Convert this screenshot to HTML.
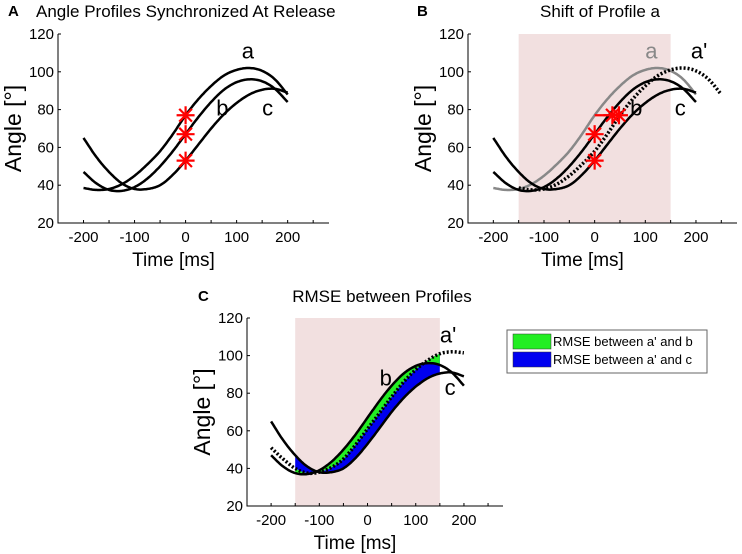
<!DOCTYPE html>
<html><head><meta charset="utf-8">
<style>
body{margin:0;background:#fff;}
svg{display:block;font-family:"Liberation Sans",Arial,sans-serif;}
</style></head>
<body>
<svg id="fig" width="742" height="554" viewBox="0 0 742 554"></svg>
<script>
const times = [-200,-175,-150,-125,-100,-75,-50,-25,0,25,50,75,100,125,150,175,200];
const profileA = [38.5,37.5,38,40.5,45,51,58,67,77,85.5,92.5,98,101,102,100.5,96,88];
const profileB = [47,41,37.5,37,39,43.5,50,58,67,76,84,90.5,94.5,96,95,91,84];
const profileC = [65,55,47,41,38,38,40,45.5,53,61.5,70,77.5,83.5,88,90.5,91,89];
const shiftA = 50;
const profileAPrimeC = [51,45,40,37.5,38,40.5,45,52.5,61,69.5,78,86,92.5,97.5,101,102,101.5];
const releaseStars = [77,67,53];
const shiftedStarTimes = [35,48];
const xTicks = [-200,-100,0,100,200];
const yTicks = [20,40,60,80,100,120];
const windowRange = [-150,150];

const NS="http://www.w3.org/2000/svg";
const svg=document.getElementById('fig');
function mk(tag,attrs,parent){const e=document.createElementNS(NS,tag);for(const k in attrs)e.setAttribute(k,attrs[k]);(parent||svg).appendChild(e);return e;}

function spline(xs,ys,n){const out=[];for(let i=0;i<xs.length-1;i++){const p0=i>0?ys[i-1]:2*ys[0]-ys[1],p1=ys[i],p2=ys[i+1],p3=i+2<ys.length?ys[i+2]:2*ys[ys.length-1]-ys[ys.length-2];for(let k=0;k<n;k++){const t=k/n;const y=0.5*((2*p1)+(-p0+p2)*t+(2*p0-5*p1+4*p2-p3)*t*t+(-p0+3*p1-3*p2+p3)*t*t*t);out.push([xs[i]+(xs[i+1]-xs[i])*t,y]);}}out.push([xs[xs.length-1],ys[ys.length-1]]);return out;}
function evalAt(pts,x){for(let i=0;i<pts.length-1;i++){if(x>=pts[i][0]&&x<=pts[i+1][0]){const f=(x-pts[i][0])/(pts[i+1][0]-pts[i][0]);return pts[i][1]+f*(pts[i+1][1]-pts[i][1]);}}return pts[pts.length-1][1];}

function makeAxes(cfg){
  const sx=v=>cfg.x0+(v-cfg.xmin)/(cfg.xmax-cfg.xmin)*(cfg.x1-cfg.x0);
  const sy=v=>cfg.y1-(v-20)/100*(cfg.y1-cfg.y0);
  return {sx,sy};
}
function drawFrame(g,ax,cfg){
  const f=mk('path',{d:`M${cfg.x0},${cfg.y0}V${cfg.y1}H${cfg.x1}`,fill:'none',stroke:'#000','stroke-width':1},g);
  
  xTicks.forEach(v=>{const x=ax.sx(v);
    const t=mk('line',{x1:x,x2:x,y1:cfg.y1,y2:cfg.y1-3,stroke:'#000'},g);
    const l=mk('text',{x:x,y:cfg.y1+19,'font-size':15,'text-anchor':'middle'},g);l.textContent=v;});
  [-150,-50,50,150,250].forEach(v=>{const x=ax.sx(v);const t=mk('line',{x1:x,x2:x,y1:cfg.y1,y2:cfg.y1-3,stroke:'#000'},g);});
  yTicks.forEach(v=>{const y=ax.sy(v);
    const t=mk('line',{x1:cfg.x0,x2:cfg.x0+3,y1:y,y2:y,stroke:'#000'},g);
    const l=mk('text',{x:cfg.x0-4,y:y+5,'font-size':15,'text-anchor':'end'},g);l.textContent=v;});
  const xl=mk('text',{x:(cfg.x0+cfg.x1)/2-20,y:cfg.y1+43,'font-size':19,'text-anchor':'middle'},g);xl.textContent='Time [ms]';
  const yl=mk('text',{x:0,y:0,'font-size':23,'text-anchor':'middle',transform:`translate(${cfg.x0-37},${(cfg.y0+cfg.y1)/2}) rotate(-90)`},g);yl.textContent='Angle [°]';
}
function pathOf(pts,ax){return pts.map((p,i)=>(i?'L':'M')+ax.sx(p[0]).toFixed(1)+','+ax.sy(p[1]).toFixed(1)).join('');}
function line(g,pts,ax,attrs,name){const e=mk('path',Object.assign({d:pathOf(pts,ax),fill:'none','stroke-width':2.5},attrs),g);return e;}
function star(g,x,y,name){const s=mk('g',{stroke:'#f00','stroke-width':2.2},g);for(let k=0;k<4;k++){const a=k*Math.PI/4;mk('line',{x1:x-9*Math.cos(a),y1:y-9*Math.sin(a),x2:x+9*Math.cos(a),y2:y+9*Math.sin(a)},s);}}
function txt(g,x,y,s,size,name,extra){const e=mk('text',Object.assign({x,y,'font-size':size},extra||{}),g);e.textContent=s;return e;}

const ptsA=spline(times,profileA,10), ptsB=spline(times,profileB,10), ptsC=spline(times,profileC,10);
const ptsAP=ptsA.map(p=>[p[0]+shiftA,p[1]]);
const ptsAPC=spline(times,profileAPrimeC,10);

// Panel A
{const cfg={x0:58,x1:329,y0:34,y1:223,xmin:-250,xmax:281};const ax=makeAxes(cfg);
 const g=mk('g',{});
 txt(g,8,16,'A',15,'panel-a-letter',{'font-weight':'bold'});
 txt(g,36,17,'Angle Profiles Synchronized At Release',17,'panel-a-title');
 drawFrame(g,ax,cfg);
 line(g,ptsA,ax,{stroke:'#000'},'curve-a');line(g,ptsB,ax,{stroke:'#000'},'curve-b');line(g,ptsC,ax,{stroke:'#000'},'curve-c');
 releaseStars.forEach(v=>star(g,ax.sx(0),ax.sy(v),'release-star'));
 txt(g,ax.sx(110),ax.sy(107),'a',22,'label-a');txt(g,ax.sx(60),ax.sy(77),'b',22,'label-b');txt(g,ax.sx(150),ax.sy(77),'c',22,'label-c');
}
// Panel B
{const cfg={x0:468,x1:737,y0:34,y1:223,xmin:-250,xmax:281};const ax=makeAxes(cfg);
 const g=mk('g',{});
 const r=mk('rect',{x:ax.sx(windowRange[0]),y:cfg.y0,width:ax.sx(windowRange[1])-ax.sx(windowRange[0]),height:cfg.y1-cfg.y0,fill:'#f2e0e0'},g);
 txt(g,417,16,'B',15,'panel-b-letter',{'font-weight':'bold'});
 txt(g,600,17,'Shift of Profile a',17,'panel-b-title',{'text-anchor':'middle'});
 drawFrame(g,ax,cfg);
 line(g,ptsA,ax,{stroke:'#888'},'curve-a-original');
 line(g,ptsB,ax,{stroke:'#000'},'curve-b');line(g,ptsC,ax,{stroke:'#000'},'curve-c');
 line(g,ptsAP,ax,{stroke:'#000','stroke-width':3.5,'stroke-dasharray':'2,2'},'curve-a-shifted');
 const rl=mk('line',{x1:ax.sx(0),x2:ax.sx(shiftA),y1:ax.sy(releaseStars[0]),y2:ax.sy(releaseStars[0]),stroke:'#f00','stroke-width':2.2},g);
 shiftedStarTimes.forEach(t=>star(g,ax.sx(t),ax.sy(releaseStars[0]),'shifted-star'));
 star(g,ax.sx(0),ax.sy(releaseStars[1]),'release-star');star(g,ax.sx(0),ax.sy(releaseStars[2]),'release-star');
 txt(g,ax.sx(100),ax.sy(107),'a',22,'label-a',{fill:'#888'});txt(g,ax.sx(190),ax.sy(107),"a'",22,'label-a-prime');
 txt(g,ax.sx(70),ax.sy(77),'b',22,'label-b');txt(g,ax.sx(158),ax.sy(77),'c',22,'label-c');
}
// Panel C
{const cfg={x0:247,x1:503,y0:318,y1:506,xmin:-250,xmax:281};const ax=makeAxes(cfg);
 const g=mk('g',{});
 const r=mk('rect',{x:ax.sx(windowRange[0]),y:cfg.y0,width:ax.sx(windowRange[1])-ax.sx(windowRange[0]),height:cfg.y1-cfg.y0,fill:'#f2e0e0'},g);
 txt(g,198,301,'C',15,'panel-c-letter',{'font-weight':'bold'});
 txt(g,382,302,'RMSE between Profiles',17,'panel-c-title',{'text-anchor':'middle'});
 const inW=ptsAPC.filter(p=>p[0]>=windowRange[0]&&p[0]<=windowRange[1]);
 function band(other,color,name){const top=inW.map(p=>[p[0],p[1]]);const bot=inW.map(p=>[p[0],evalAt(other,p[0])]).reverse();
   const e=mk('path',{d:pathOf(top,ax)+pathOf(bot,ax).replace('M','L')+'Z',fill:color,stroke:'none'},g);}
 band(ptsC,'#0000f0','rmse-band-a-prime-c');band(ptsB,'#22ee22','rmse-band-a-prime-b');
 drawFrame(g,ax,cfg);
 line(g,ptsB,ax,{stroke:'#000'},'curve-b');line(g,ptsC,ax,{stroke:'#000'},'curve-c');
 line(g,ptsAPC,ax,{stroke:'#000','stroke-width':3.5,'stroke-dasharray':'2,2'},'curve-a-shifted');
 txt(g,ax.sx(150),ax.sy(107),"a'",22,'label-a-prime');txt(g,ax.sx(25),ax.sy(84),'b',22,'label-b');txt(g,ax.sx(160),ax.sy(79),'c',22,'label-c');
 const lg=mk('g',{});
 mk('rect',{x:507,y:330,width:200,height:43,fill:'#fff',stroke:'#666'},lg);
 const s1=mk('rect',{x:513,y:334,width:38,height:15,fill:'#22ee22',stroke:'#333','stroke-width':0.5},lg);
 const s2=mk('rect',{x:513,y:352,width:38,height:15,fill:'#0000f0',stroke:'#333','stroke-width':0.5},lg);
 txt(lg,553,346,"RMSE between a' and b",13,'legend-entry-b');
 txt(lg,553,364,"RMSE between a' and c",13,'legend-entry-c');
}
</script>
</body></html>
